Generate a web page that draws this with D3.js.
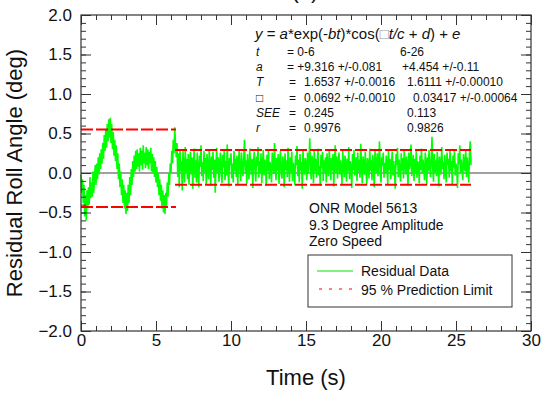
<!DOCTYPE html>
<html><head><meta charset="utf-8">
<script src="https://cdn.jsdelivr.net/npm/d3@7"></script>
<style>
body{margin:0;background:#fff}
svg{display:block}
text{font-family:"Liberation Sans",Arial,Helvetica,sans-serif;fill:#111}
</style>
</head><body>
<svg id="chart" width="541" height="399"></svg>
<script>
// ---- data ----
const sampleStep = 0.05; // seconds between samples, starting at t = 0
const residualValues = [
-0.02,-0.25,-0.08,-0.38,-0.15,-0.55,-0.28,-0.60,-0.22,-0.45,-0.18,-0.40,-0.05,-0.32,-0.12,-0.30,0.02,-0.25,-0.05,0.10,
-0.15,0.12,-0.08,0.20,-0.02,0.25,0.05,0.30,0.12,0.38,0.18,0.48,0.28,0.55,0.32,0.62,0.40,0.68,0.45,0.70,
0.38,0.62,0.30,0.52,0.22,0.42,0.15,0.35,0.05,0.25,-0.08,0.12,-0.18,0.02,-0.28,-0.08,-0.38,-0.15,-0.45,-0.22,
-0.52,-0.25,-0.48,-0.15,-0.38,-0.05,-0.28,0.05,-0.15,0.15,-0.05,0.22,0.02,0.28,0.05,0.30,0.08,0.25,0.02,0.32,
0.10,0.28,0.04,0.35,0.12,0.26,0.06,0.33,0.10,0.30,0.05,0.27,0.12,0.32,0.02,0.24,0.00,0.20,-0.05,0.15,
-0.12,0.08,-0.18,0.00,-0.28,-0.08,-0.35,-0.15,-0.45,-0.22,-0.50,-0.28,-0.52,-0.25,-0.42,-0.12,-0.30,0.00,-0.15,0.12,
0.00,0.28,0.12,0.42,0.25,0.58,0.35,
0.20,0.38,-0.05,0.25,-0.18,0.30,0.02,0.15,-0.22,0.28,0.05,-0.12,0.33,0.00,0.18,-0.08,0.24,-0.15,0.10,0.27,
-0.02,0.20,-0.20,0.12,0.31,-0.06,0.16,-0.12,0.26,0.03,-0.18,0.22,0.08,0.35,-0.04,0.14,-0.10,0.28,0.01,0.19,
-0.14,0.24,0.06,-0.08,0.30,0.11,-0.16,0.21,0.04,0.27,-0.06,0.17,-0.25,0.13,0.32,-0.01,0.20,-0.11,0.09,0.26,
0.00,-0.13,0.23,0.07,0.29,-0.09,0.15,-0.03,0.36,0.05,-0.17,0.19,0.10,0.25,-0.07,0.12,-0.12,0.28,0.02,0.18,
-0.05,0.22,-0.15,0.14,0.30,0.03,-0.10,0.26,0.08,-0.04,0.20,0.42,0.01,0.16,-0.14,0.24,0.06,-0.08,0.31,0.11,
-0.02,0.18,-0.19,0.13,0.27,0.04,-0.11,0.21,0.09,0.33,-0.06,0.15,0.00,0.25,-0.13,0.10,0.29,-0.03,0.17,0.07,
-0.16,0.23,0.02,0.30,-0.08,0.14,0.05,-0.12,0.26,0.11,-0.01,0.38,0.06,-0.09,0.19,0.03,0.24,-0.14,0.12,0.28,
0.00,-0.07,0.21,0.09,-0.18,0.25,0.04,0.16,-0.05,0.32,0.08,-0.11,0.20,0.01,0.27,-0.10,0.13,0.06,-0.15,0.22,
0.10,0.34,-0.04,0.17,-0.12,0.24,0.03,0.14,-0.20,0.29,0.07,-0.02,0.19,0.12,-0.09,0.26,0.00,0.15,0.44,0.05,
-0.08,0.22,0.11,-0.13,0.28,0.02,0.18,-0.06,0.13,0.31,-0.03,0.09,-0.16,0.23,0.06,0.27,-0.10,0.16,0.01,0.20,
-0.12,0.25,0.08,-0.04,0.30,0.12,-0.09,0.19,0.03,0.24,-0.17,0.14,0.35,0.00,0.21,-0.07,0.11,0.26,-0.02,0.16,
0.05,-0.14,0.28,0.09,-0.05,0.22,0.13,-0.11,0.18,0.02,0.33,-0.08,0.15,0.07,-0.19,0.24,0.04,0.29,-0.03,0.12,
0.20,-0.10,0.26,0.01,0.17,-0.06,0.37,0.08,-0.13,0.21,0.10,-0.02,0.27,0.05,-0.15,0.19,0.12,-0.07,0.31,0.03,
0.16,-0.09,0.23,0.06,-0.18,0.28,0.11,0.00,0.25,-0.04,0.14,0.40,0.02,-0.12,0.20,0.09,0.26,-0.06,0.13,-0.01,
0.22,0.07,-0.14,0.30,0.04,0.18,-0.08,0.12,0.27,-0.03,0.15,0.01,-0.20,0.24,0.10,0.32,-0.05,0.17,0.06,-0.11,
0.25,0.03,0.19,-0.07,0.29,0.12,-0.02,0.21,0.08,-0.16,0.26,0.05,0.14,0.36,-0.04,0.11,0.23,-0.10,0.18,0.00,
0.28,-0.06,0.15,0.09,-0.13,0.22,0.04,0.31,-0.01,0.17,0.07,-0.09,0.26,0.13,-0.15,0.20,0.02,0.29,0.10,-0.05,
0.19,0.46,0.06,-0.11,0.24,0.01,0.16,-0.04,0.27,0.09,-0.17,0.21,0.12,-0.02,0.33,0.05,0.14,-0.08,0.23,0.03,
-0.12,0.26,0.10,0.18,-0.06,0.30,0.02,0.15,-0.14,0.22,0.07,0.28,-0.03,0.12,0.04,-0.19,0.25,0.11,0.35,-0.01,
0.17,0.06,-0.09,0.24,0.13,0.02,0.29,-0.05,0.20,0.08,-0.12,0.27,0.40,0.10
];
const limitStart = [0, 6.27];
const limitEnd = [6.33, 26.0];
const upperLimit = [0.55, 0.29];
const lowerLimit = [-0.43, -0.15];

const xTicks = [0, 5, 10, 15, 20, 25, 30];
const yTicks = [-2.0, -1.5, -1.0, -0.5, 0.0, 0.5, 1.0, 1.5, 2.0];

const eqRowLabels = ["t", "a", "T", "\u25A1", "SEE", "r"];
const eqRowEquals = ["= 0-6", "= +9.316 +/-0.081", "=", "=", "=", "="];
const eqCol1 = ["", "", "1.6537 +/-0.0016", "0.0692 +/-0.0010", "0.245", "0.9976"];
const eqCol2 = ["6-26", "+4.454 +/-0.11", "1.6111 +/-0.00010", "0.03417 +/-0.00064", "0.113", "0.9826"];
const noteLines = ["ONR Model 5613", "9.3 Degree Amplitude", "Zero Speed"];
const legendLabels = ["Residual Data", "95 % Prediction Limit"];

// ---- chart ----
const svg = d3.select("#chart");
const L = 81, R = 531, T = 15, B = 331;
const x = d3.scaleLinear().domain([0, 30]).range([L, R]);
const y = d3.scaleLinear().domain([-2, 2]).range([B, T]);
const axisColor = "#333";

// zero line
svg.append("line").attr("x1", x(0)).attr("x2", x(30)).attr("y1", y(0)).attr("y2", y(0))
  .attr("stroke", "#808080").attr("stroke-width", 1.5);

// residual data
const line = d3.line().x((d, i) => x(i * sampleStep)).y(d => y(d));
svg.append("path").datum(residualValues).attr("d", line)
  .attr("fill", "none").attr("stroke", "#00ff00").attr("stroke-width", 1.6)
  .attr("stroke-linejoin", "miter").attr("stroke-miterlimit", 2);

// prediction limits
limitStart.forEach((s, i) => {
  [upperLimit[i], lowerLimit[i]].forEach(v => {
    svg.append("line").attr("x1", x(s)).attr("x2", x(limitEnd[i]))
      .attr("y1", y(v)).attr("y2", y(v))
      .attr("stroke", "#ff0000").attr("stroke-width", 2).attr("stroke-dasharray", "12,3");
  });
});

// axes
function styleAxis(g) {
  g.selectAll(".domain").remove();
  g.selectAll("line").attr("stroke", axisColor);
  g.selectAll("text").style("font-size", "17px").attr("fill", "#111");
}
const minorX = d3.range(0, 31, 1);
const minorY = d3.range(-20, 21).map(v => v / 10);

svg.append("g").attr("transform", `translate(0,${B})`)
  .call(d3.axisBottom(x).tickValues(xTicks).tickSize(-10).tickSizeOuter(0).tickPadding(3).tickFormat(d3.format("d")))
  .call(styleAxis);
svg.append("g").attr("transform", `translate(0,${B})`)
  .call(d3.axisBottom(x).tickValues(minorX).tickSize(-5).tickSizeOuter(0).tickFormat(""))
  .call(styleAxis);
svg.append("g").attr("transform", `translate(0,${T})`)
  .call(d3.axisTop(x).tickValues(xTicks).tickSize(-10).tickSizeOuter(0).tickFormat(""))
  .call(styleAxis);
svg.append("g").attr("transform", `translate(0,${T})`)
  .call(d3.axisTop(x).tickValues(minorX).tickSize(-5).tickSizeOuter(0).tickFormat(""))
  .call(styleAxis);
svg.append("g").attr("transform", `translate(${L},0)`)
  .call(d3.axisLeft(y).tickValues(yTicks).tickSize(-10).tickSizeOuter(0).tickPadding(9).tickFormat(d3.format(".1f")))
  .call(styleAxis);
svg.append("g").attr("transform", `translate(${L},0)`)
  .call(d3.axisLeft(y).tickValues(minorY).tickSize(-5).tickSizeOuter(0).tickFormat(""))
  .call(styleAxis);
svg.append("g").attr("transform", `translate(${R},0)`)
  .call(d3.axisRight(y).tickValues(yTicks).tickSize(-10).tickSizeOuter(0).tickFormat(""))
  .call(styleAxis);
svg.append("g").attr("transform", `translate(${R},0)`)
  .call(d3.axisRight(y).tickValues(minorY).tickSize(-5).tickSizeOuter(0).tickFormat(""))
  .call(styleAxis);

// frame
svg.append("rect").attr("x", L).attr("y", T).attr("width", R - L).attr("height", B - T)
  .attr("fill", "none").attr("stroke", axisColor).attr("stroke-width", 1.2);

// titles
svg.append("text").attr("x", 306).attr("y", 385).attr("text-anchor", "middle")
  .style("font-size", "22px").text("Time (s)");
svg.append("text").attr("transform", `translate(22,${(T + B) / 2}) rotate(-90)`)
  .attr("text-anchor", "middle").style("font-size", "22px").text("Residual Roll Angle (deg)");
svg.append("text").attr("x", 305).attr("y", -2).attr("text-anchor", "middle")
  .style("font-size", "22px").text("(a)");

// equation
const eq = svg.append("text").attr("x", 255).attr("y", 39).style("font-size", "15px");
[["y", 1], [" = ", 0], ["a", 1], ["*exp(-", 0], ["bt", 1], [")*cos(", 0], ["\u25A1", 2], ["t/c", 1],
 [" + ", 0], ["d", 1], [") + ", 0], ["e", 1]].forEach(([s, it]) => {
  const ts = eq.append("tspan").text(s);
  if (it === 1) ts.style("font-style", "italic");
  if (it === 2) ts.attr("fill", "#999");
});
eqRowLabels.forEach((lab, i) => {
  const yy = 56 + i * 15.2;
  svg.append("text").attr("x", 256).attr("y", yy).style("font-size", "12px")
    .style("font-style", "italic").attr("fill", lab === "\u25A1" ? "#aaa" : "#111").text(lab);
  svg.append("text").attr("x", i < 2 ? 287 : 289).attr("y", yy).style("font-size", "12px").text(eqRowEquals[i]);
  if (eqCol1[i]) svg.append("text").attr("x", 304).attr("y", yy).style("font-size", "12px").text(eqCol1[i]);
  const c2x = [400, 402, 407, 413, 407, 407][i];
  svg.append("text").attr("x", c2x).attr("y", yy).style("font-size", "12px").text(eqCol2[i]);
});

// notes
noteLines.forEach((s, i) => {
  svg.append("text").attr("x", 309).attr("y", 213 + i * 16.5).style("font-size", "14px").text(s);
});

// legend
svg.append("rect").attr("x", 308).attr("y", 255).attr("width", 204).attr("height", 52)
  .attr("fill", "#fff").attr("stroke", axisColor).attr("stroke-width", 1);
svg.append("line").attr("x1", 317).attr("x2", 353).attr("y1", 271).attr("y2", 271)
  .attr("stroke", "#55ee55").attr("stroke-width", 1.5);
svg.append("line").attr("x1", 319).attr("x2", 353).attr("y1", 289).attr("y2", 289)
  .attr("stroke", "#ff0000").attr("stroke-width", 1.2).attr("stroke-dasharray", "3,7");
legendLabels.forEach((s, i) => {
  svg.append("text").attr("x", 361).attr("y", 276 + i * 18.5).style("font-size", "14px").text(s);
});
</script>
</body></html>
